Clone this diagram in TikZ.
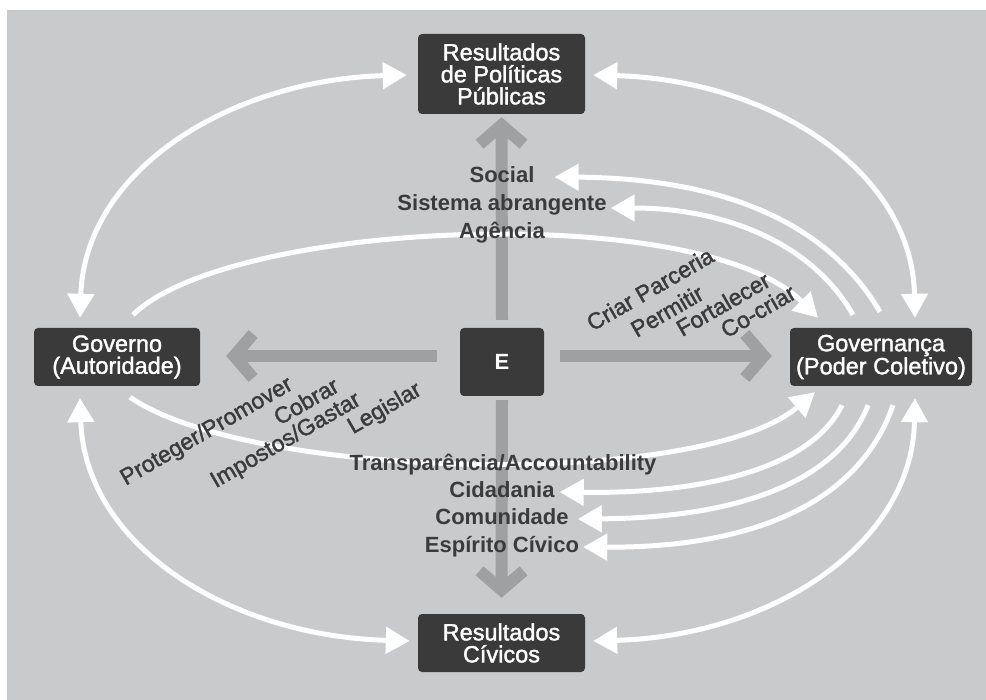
\documentclass[tikz,border=0pt]{standalone}
\usepackage{fontspec}
\setmainfont{Liberation Sans}
\newfontfamily\medfont{Liberation Sans}[FakeBold=1.6]
\usetikzlibrary{arrows.meta}
\definecolor{bgc}{HTML}{C9CACC}
\definecolor{boxc}{HTML}{3A3A3A}
\definecolor{garrow}{HTML}{9FA0A2}
\definecolor{txt}{HTML}{3B3B3D}
\pgfdeclarelayer{back}
\pgfsetlayers{back,main}
\begin{document}
\begin{tikzpicture}[x=1pt,y=-1pt,
  box/.style={fill=boxc, rounded corners=4pt, text=white, align=center, font=\medfont\fontsize{23.5}{22}\selectfont, inner sep=0pt},
  glabel/.style={text=txt, font=\bfseries\fontsize{22}{24}\selectfont, inner sep=0pt, anchor=base},
  rlabel/.style={text=txt, font=\medfont\fontsize{23}{24}\selectfont, inner sep=0pt, rotate=30},
  grayarrow/.style={draw=garrow, line width=12pt, -{Straight Barb[length=19pt,width=44pt]}},
  warrow/.style={draw=white, line width=5pt, -{Triangle[length=24pt,width=26pt]}},
  wdarrow/.style={draw=white, line width=5pt, {Triangle[length=24pt,width=26pt]}-{Triangle[length=24pt,width=26pt]}},
]
\useasboundingbox (0,0) rectangle (986,700);
\begin{pgfonlayer}{back}
\fill[white] (0,0) rectangle (986,700);
\fill[bgc] (7,10) rectangle (986,700);
\end{pgfonlayer}

% boxes
\node[box, minimum width=167pt, minimum height=80pt] (top) at (501.5,74) {Resultados\\de Políticas\\Públicas};
\node[box, minimum width=166pt, minimum height=58pt] (gov) at (117,357) {Governo\\(Autoridade)};
\node[box, minimum width=182pt, minimum height=58pt] (gova) at (881,357) {Governança\\(Poder Coletivo)};
\node[box, minimum width=167pt, minimum height=58pt] (bot) at (501.5,643) {Resultados\\Cívicos};
\node[box, minimum width=84pt, minimum height=68pt, font=\bfseries\fontsize{22}{22}\selectfont] (E) at (502,362) {E};

% centre labels
\node[glabel] (social) at (502,183) {Social};
\node[glabel] (sist) at (502,211) {Sistema abrangente};
\node[glabel] (agen) at (502,239) {Agência};
\node[glabel] (transp) at (503,471) {Transparência/Accountability};
\node[glabel] (cid) at (502,498) {Cidadania};
\node[glabel] (com) at (502,525) {Comunidade};
\node[glabel] (esp) at (502,552) {Espírito Cívico};

% rotated labels
\node[rlabel] (prot) at (207,432) {Proteger/Promover};
\node[rlabel] (cobr) at (306,401) {Cobrar};
\node[rlabel] (impo) at (286,441) {Impostos/Gastar};
\node[rlabel] (legi) at (385,409) {Legislar};
\node[rlabel] (cria) at (650,289) {Criar Parceria};
\node[rlabel] (perm) at (667,311) {Permitir};
\node[rlabel] (fort) at (723,304) {Fortalecer};
\node[rlabel] (cocr) at (758,311) {Co-criar};

\begin{pgfonlayer}{back}
% gray arrows
\draw[grayarrow] ([shift={(0,-8)}]E.north) -- ([shift={(0,3)}]top.south);
\draw[grayarrow] ([shift={(0,4)}]E.south) -- ([shift={(0,-16)}]bot.north);
\draw[grayarrow] ([shift={(-23,-6)}]E.west) -- ([shift={(26,-1)}]gov.east);
\draw[grayarrow] ([shift={(16,-6)}]E.east) -- ([shift={(-18,-1)}]gova.west);

% outer white arrows
\draw[wdarrow] ([shift={(-37,-10)}]gov.north) .. controls (85,170) and (230,80) .. ([shift={(-11,1)}]top.west);
\draw[wdarrow] ([shift={(8,1)}]top.east) .. controls (770,80) and (912,170) .. ([shift={(34,-10)}]gova.north);
\draw[wdarrow] ([shift={(-37,12)}]gov.south) .. controls (85,546) and (230,636) .. ([shift={(-8,-2)}]bot.west);
\draw[wdarrow] ([shift={(8,-2)}]bot.east) .. controls (770,636) and (912,546) .. ([shift={(34,12)}]gova.south);

% inner white arrows
\draw[warrow] ([shift={(16,-13)}]gov.north) .. controls (230,220) and (700,200) .. ([shift={(-63,-10)}]gova.north);
\draw[warrow] ([shift={(13,11)}]gov.south) .. controls (250,480) and (700,490) .. ([shift={(-66,6)}]gova.south);
\draw[warrow] ([shift={(-1,-16)}]gova.north) .. controls (820,210) and (700,178) .. ([shift={(20,-6)}]social.base east);
\draw[warrow] ([shift={(-28,-13)}]gova.north) .. controls (810,240) and (720,208) .. ([shift={(4,-3)}]sist.base east);
\draw[warrow] ([shift={(-39,19)}]gova.south) .. controls (810,470) and (700,494) .. ([shift={(5,-6)}]cid.base east);
\draw[warrow] ([shift={(-13,19)}]gova.south) .. controls (835,490) and (720,518) .. ([shift={(9,-6)}]com.base east);
\draw[warrow] ([shift={(12,19)}]gova.south) .. controls (855,515) and (730,548) .. ([shift={(4,-5)}]esp.base east);
\end{pgfonlayer}
\end{tikzpicture}
\end{document}
